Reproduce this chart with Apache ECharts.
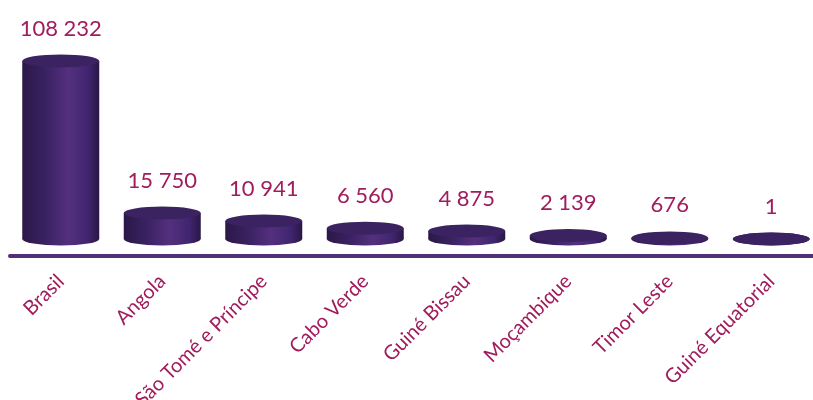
<!DOCTYPE html>
<html>
<head>
<meta charset="utf-8">
<script src="https://cdn.jsdelivr.net/npm/echarts@6/dist/echarts.min.js"></script>
<style>html,body{margin:0;padding:0;background:#fff;}#chart{width:813px;height:400px;}</style>
</head>
<body>
<div id="chart"></div>
<script>
var categories = ['Brasil', 'Angola', 'São Tomé e Príncipe', 'Cabo Verde', 'Guiné Bissau', 'Moçambique', 'Timor Leste', 'Guiné Equatorial'];
var values = [108232, 15750, 10941, 6560, 4875, 2139, 676, 1];

var LABEL_COLOR = '#a01c5c';
var FONT = 'Lato, "Open Sans", sans-serif';

function fmt(v) { return String(v).replace(/\B(?=(\d{3})+(?!\d))/g, ' '); }

var sideGrad = new echarts.graphic.LinearGradient(0, 0, 1, 0, [
  { offset: 0, color: '#2b1848' },
  { offset: 0.3, color: '#3a2262' },
  { offset: 0.6, color: '#54307f' },
  { offset: 0.85, color: '#402570' },
  { offset: 1, color: '#2a1745' }
]);

function renderItem(params, api) {
  var idx = api.value(0);
  var val = api.value(1);
  var p = api.coord([idx, val]);
  var b = api.coord([idx, 0]);
  var w = 77, eh = 13;
  var cx = p[0], top = p[1], bot = b[1];
  var sy = eh / w;
  return {
    type: 'group',
    children: [
      { type: 'circle', shape: { cx: 0, cy: 0, r: w / 2 }, x: cx, y: bot, scaleY: sy, style: { fill: sideGrad } },
      { type: 'rect', shape: { x: cx - w / 2, y: top, width: w, height: Math.max(0, bot - top) }, style: { fill: sideGrad } },
      { type: 'circle', shape: { cx: 0, cy: 0, r: w / 2 }, x: cx, y: top, scaleY: sy, style: { fill: '#3a2360' } },
      { type: 'text', x: cx, y: top - eh / 2 - 15, style: { text: fmt(val), fill: LABEL_COLOR, font: '22px ' + FONT, textAlign: 'center', textVerticalAlign: 'bottom' } }
    ]
  };
}

var chart = echarts.init(document.getElementById('chart'));
chart.setOption({
  animation: false,
  grid: { left: 10, width: 812, top: 58, bottom: 161, outerBoundsMode: 'none', containLabel: false },
  xAxis: {
    type: 'category',
    data: categories,
    offset: 17,
    axisLine: { show: true, onZero: false, lineStyle: { color: '#4f3079', width: 4, cap: 'round' } },
    axisTick: { show: false },
    axisLabel: { rotate: 45, color: LABEL_COLOR, fontFamily: FONT, fontSize: 20, margin: 22, interval: 0 }
  },
  yAxis: { type: 'value', min: 0, max: 110000, show: false, splitLine: { show: false } },
  series: [{
    type: 'custom',
    renderItem: renderItem,
    data: values.map(function (v, i) { return [i, v]; }),
    clip: false
  }]
});
</script>
</body>
</html>
